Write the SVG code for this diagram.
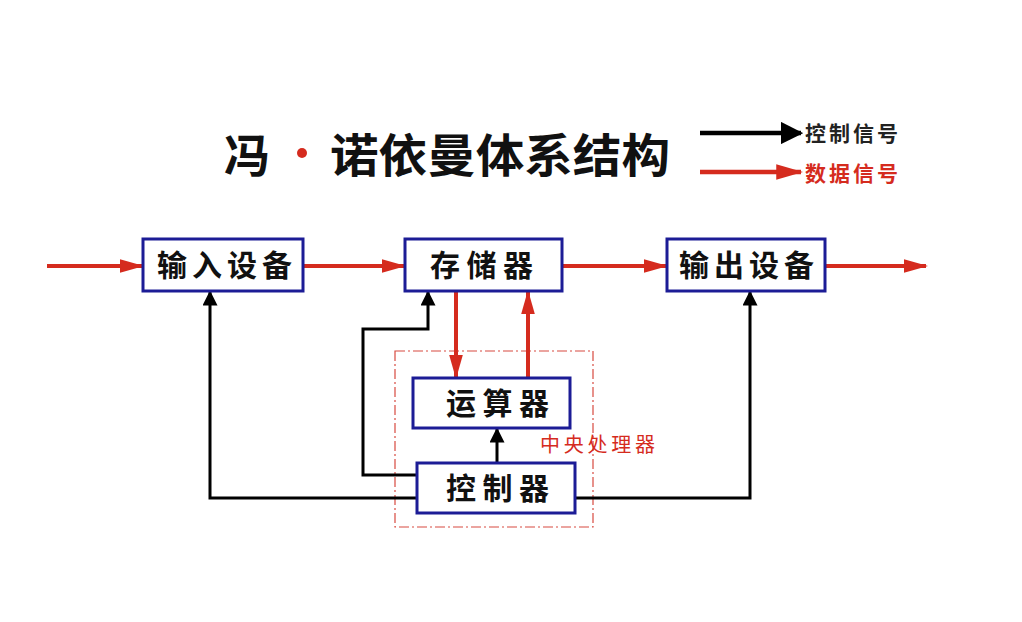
<svg xmlns="http://www.w3.org/2000/svg" width="1022" height="622" viewBox="0 0 1022 622">
<defs>
<style>
.box{fill:#fff;stroke:#1c1c96;stroke-width:3}
.lbl{font-family:"Noto Sans CJK SC","Noto Sans CJK JP",sans-serif;font-weight:bold;font-size:30px;fill:#111}
.red{stroke:#d52b1e;stroke-width:4;fill:none}
.blk{stroke:#000;stroke-width:3;fill:none}
.title{font-family:"Noto Sans CJK SC",sans-serif;font-weight:bold;font-size:46px;fill:#111}
.leg{font-family:"Noto Sans CJK SC",sans-serif;font-weight:bold;font-size:21px}
</style>
<marker id="ar" markerWidth="6" markerHeight="5" refX="5.5" refY="2.5" orient="auto" markerUnits="strokeWidth"><path d="M0,0.8 L6,2.5 L0,4.2 Z" fill="#d52b1e"/></marker>
<marker id="ab" markerWidth="5" markerHeight="5" refX="4.5" refY="2.5" orient="auto" markerUnits="strokeWidth"><path d="M0,0 L5,2.5 L0,5 Z" fill="#000"/></marker>
</defs>
<rect width="1022" height="622" fill="#fff"/>
<g id="title">
<text class="title" x="224" y="172">冯</text>
<circle cx="302" cy="153" r="5" fill="#d52b1e"/>
<text class="title" x="330" y="172" textLength="340" lengthAdjust="spacingAndGlyphs">诺依曼体系结构</text>
</g>
<g id="legend">
<line x1="700" y1="133" x2="801" y2="133" class="blk" style="stroke-width:4.5" marker-end="url(#ab)"/>
<text class="leg" x="805" y="141" fill="#222" textLength="93">控制信号</text>
<line x1="700" y1="172" x2="801" y2="172" class="red" style="stroke-width:4.5" marker-end="url(#ar)"/>
<text class="leg" x="805" y="181" fill="#d52b1e" textLength="93">数据信号</text>
</g>
<g id="cpu">
<rect x="395" y="351" width="198" height="176" fill="none" stroke="#d84a40" stroke-width="1.2" stroke-dasharray="10,3,2,3"/>
<text x="540" y="452" font-family="Noto Sans CJK SC,sans-serif" font-size="20" fill="#d52b1e" textLength="115">中央处理器</text>
</g>
<g id="connectors">
<line x1="47" y1="266" x2="142" y2="266" class="red" marker-end="url(#ar)"/>
<line x1="303" y1="266" x2="404" y2="266" class="red" marker-end="url(#ar)"/>
<line x1="563" y1="266" x2="666" y2="266" class="red" marker-end="url(#ar)"/>
<line x1="826" y1="266" x2="926" y2="266" class="red" marker-end="url(#ar)"/>
<line x1="456" y1="292" x2="456" y2="377" class="red" marker-end="url(#ar)"/>
<line x1="528" y1="377" x2="528" y2="292" class="red" marker-end="url(#ar)"/>
<polyline points="417,475 363,475 363,329 428,329 428,292" class="blk" marker-end="url(#ab)"/>
<line x1="497" y1="463" x2="497" y2="429" class="blk" marker-end="url(#ab)"/>
<polyline points="417,498 210,498 210,292" class="blk" marker-end="url(#ab)"/>
<polyline points="575,498 750,498 750,292" class="blk" marker-end="url(#ab)"/>
</g>
<g id="input">
<rect class="box" x="143" y="239" width="160" height="52"/>
<text class="lbl" x="157" y="276" textLength="135">输入设备</text>
</g>
<g id="memory">
<rect class="box" x="405" y="239" width="157" height="52"/>
<text class="lbl" x="430" y="276" textLength="103">存储器</text>
</g>
<g id="output">
<rect class="box" x="667" y="239" width="158" height="52"/>
<text class="lbl" x="679" y="276" textLength="135">输出设备</text>
</g>
<g id="alu">
<rect class="box" x="413" y="378" width="157" height="50"/>
<text class="lbl" x="446" y="414" textLength="103">运算器</text>
</g>
<g id="control">
<rect class="box" x="417" y="463" width="158" height="50"/>
<text class="lbl" x="446" y="499" textLength="103">控制器</text>
</g>
</svg>
